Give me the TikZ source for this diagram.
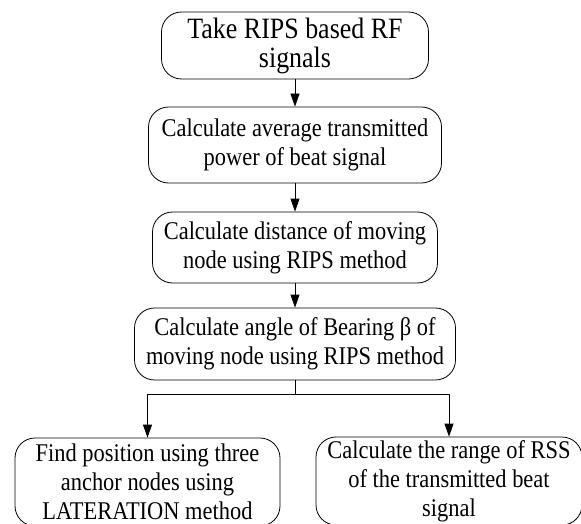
\documentclass[tikz,border=0pt]{standalone}
\usepackage{fontspec}
\setmainfont{Liberation Serif}[FakeStretch=0.88]
\usetikzlibrary{arrows.meta}

\tikzset{
  stepbox/.style={draw, rounded corners=20pt, align=center, inner sep=0pt,
    font=\fontsize{25.5}{29}\selectfont},
}

\begin{document}
\begin{tikzpicture}[line cap=round,line join=round,>={Triangle[length=13pt,width=9pt]},x=1pt,y=1pt,line width=0.8pt]
			\useasboundingbox (0,0) rectangle (581,-524);
			% Etape 1
			\node[stepbox, minimum width=267pt, minimum height=67pt, font=\fontsize{29.5}{29}\selectfont] (take) at (295,-45.5) {Take RIPS based RF\\signals};
			% Etape 2
			\node[stepbox, minimum width=293pt, minimum height=76pt] (power) at (295,-145) {Calculate average transmitted\\power of beat signal};
			% Etape 3
			\node[stepbox, minimum width=285pt, minimum height=71pt] (dist) at (295,-247.5) {Calculate distance of moving\\node using RIPS method};
			% Etape 4
			\node[stepbox, minimum width=321pt, minimum height=72pt] (angle) at (295,-344) {Calculate angle of Bearing β of\\moving node using RIPS method};
			% Etape 5
			\node[stepbox, minimum width=265pt, minimum height=88pt] (pos) at (147.5,-482) {Find position using three\\anchor nodes using\\LATERATION method};
			\node[stepbox, minimum width=266pt, minimum height=88pt] (range) at (449,-481) {Calculate the range of RSS\\of the transmitted beat\\signal};
			%fleches
			\draw[->] (take) -- (power);
			\draw[->] (power) -- (dist);
			\draw[->] (dist) -- (angle);
			\coordinate (split) at (295,-394);
			\draw (angle) -- (split);
			\draw[->] (split) -| (pos);
			\draw[->] (split) -| (range);
	\end{tikzpicture}
\end{document}
